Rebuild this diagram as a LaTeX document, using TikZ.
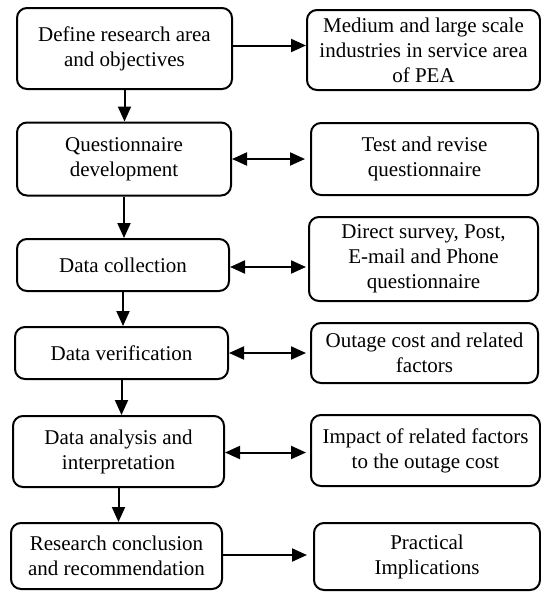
\documentclass[tikz,border=0pt]{standalone}
\usepackage{fontspec}
\setmainfont{Liberation Serif}
\newfontfamily\boxface{Liberation Serif}
\usetikzlibrary{arrows.meta}
\begin{document}
\begin{tikzpicture}[x=1pt,y=-1pt,
  >={Triangle[length=15pt,width=13pt]},
  box/.style={draw,line width=2pt,rounded corners=10pt,inner sep=0pt,
    align=center,font=\boxface\fontsize{21}{25}\selectfont},
  link/.style={line width=2pt}]
\useasboundingbox (0,0) rectangle (541,592);
% left column: research steps
\node[box,minimum width=215pt,minimum height=81pt] (L1) at (124.5,48.5) {Define research area\\and objectives};
\node[box,minimum width=214pt,minimum height=73pt] (L2) at (124,159) {Questionnaire\\development};
\node[box,minimum width=212pt,minimum height=52pt] (L3) at (123,265) {Data collection};
\node[box,minimum width=213pt,minimum height=52pt] (L4) at (121.5,353) {Data verification};
\node[box,minimum width=211pt,minimum height=71pt] (L5) at (118.5,451.5) {Data analysis and\\interpretation};
\node[box,minimum width=211pt,minimum height=66pt] (L6) at (116.5,556) {Research conclusion\\and recommendation};
% right column: details of each step
\node[box,minimum width=233pt,minimum height=80pt] (R1) at (423.5,50) {Medium and large scale\\industries in service area\\of PEA};
\node[box,minimum width=227pt,minimum height=72pt] (R2) at (424.5,159) {Test and revise\\questionnaire};
\node[box,minimum width=229pt,minimum height=84pt] (R3) at (423.5,259) {Direct survey, Post,\\E-mail and Phone\\questionnaire};
\node[box,minimum width=227pt,minimum height=60pt] (R4) at (424.5,353) {Outage cost and related\\factors};
\node[box,minimum width=229pt,minimum height=71pt] (R5) at (425.5,450.5) {Impact of related factors\\to the outage cost};
\node[box,minimum width=226pt,minimum height=67pt] (R6) at (427,556.5) {Practical\\Implications};
% flow down the left column
\foreach \a/\b in {L1/L2,L2/L3,L3/L4,L4/L5,L5/L6}
  \draw[link,->] (\a.south) -- (\a.south |- \b.north);
% links between the columns
\draw[link,->] ([yshift=3pt]L1.east) -- ([yshift=3pt]L1.east -| R1.west);
\draw[link,<->] (L2.east) -- ([xshift=-5pt]L2.east -| R2.west);
\draw[link,<->] ([yshift=-2pt]L3.east) -- ([yshift=-2pt,xshift=-2pt]L3.east -| R3.west);
\draw[link,<->] (L4.east) -- ([xshift=-4pt]L4.east -| R4.west);
\draw[link,<->] ([yshift=-1pt]L5.east) -- ([yshift=-1pt,xshift=-4pt]L5.east -| R5.west);
\draw[link,->] ([yshift=1pt]L6.east) -- ([yshift=1pt,xshift=-6pt]L6.east -| R6.west);
\end{tikzpicture}
\end{document}
